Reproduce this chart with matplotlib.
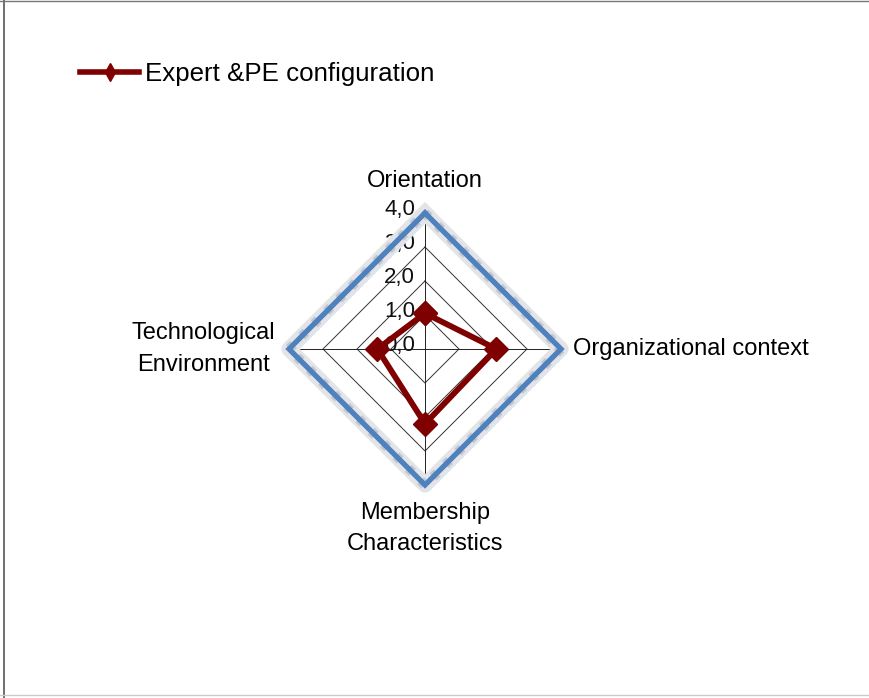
import numpy as np
import matplotlib
matplotlib.use("Agg")
import matplotlib.pyplot as plt
from matplotlib.lines import Line2D
from matplotlib.transforms import offset_copy

plt.rcParams["font.family"] = ["Liberation Sans", "DejaVu Sans"]

categories = ["Orientation", "Organizational context",
              "Membership\nCharacteristics", "Technological\nEnvironment"]
expert_pe = [1.05, 2.1, 2.2, 1.4]
outer = [4.0, 4.0, 4.0, 4.0]
tick_values = [0, 1, 2, 3, 4]
tick_labels = ["0,0", "1,0", "2,0", "3,0", "4,0"]
series_name = "Expert &PE configuration"

red = "#7F0000"
blue = "#4F81BD"

angles = np.linspace(0, 2 * np.pi, len(categories), endpoint=False)
closed = np.append(angles, angles[0])

fig = plt.figure(figsize=(8.69, 6.98), dpi=100)
ax = fig.add_axes([289 / 869, 213 / 698, 272 / 869, 272 / 698], projection="polar")
ax.set_theta_offset(np.pi / 2)
ax.set_theta_direction(-1)
ax.set_ylim(0, 4)
ax.grid(False)
ax.spines["polar"].set_visible(False)
ax.set_xticks([])
ax.set_yticks([])
ax.patch.set_alpha(0)

# polygon grid
for r in tick_values[1:4]:
    ax.plot(closed, [r] * len(closed), color="#333333", lw=0.7, zorder=1)
for a in angles:
    ax.plot([a, a], [0, 4], color="#222222", lw=0.7, zorder=1)

# tick labels left of the vertical axis
tick_tr = offset_copy(ax.transData, fig=fig, x=-10, y=4, units="dots")
for v, lab in zip(tick_values, tick_labels):
    ax.text(0, v, lab, transform=tick_tr, ha="right", va="center",
            fontsize=16, color="#111111", zorder=2)

# outer series with soft shadow
outer_c = outer + outer[:1]
ax.plot(closed, outer_c, color="#e2e4e8", lw=11, zorder=3, clip_on=False,
        solid_joinstyle="round")
ax.plot(closed, outer_c, color="#c2c8d0", lw=7, zorder=3, clip_on=False,
        linestyle=(0, (0.6, 1.2)))
ax.plot(closed, outer_c, color=blue, lw=3.8, zorder=4, clip_on=False,
        solid_joinstyle="miter")

# main series
vals = expert_pe + expert_pe[:1]
ax.plot(closed, vals, color=red, lw=4.2, marker="D", ms=12,
        markeredgecolor=red, zorder=5, clip_on=False)

# category labels
ax.text(angles[0], 4.94, categories[0], ha="center", va="center", fontsize=17)
ax.text(angles[1], 4.35, categories[1], ha="left", va="center", fontsize=17)
ax.text(angles[2], 4.5, categories[2], ha="center", va="top", fontsize=17,
        multialignment="center", linespacing=1.55)
ax.text(angles[3], 4.41, categories[3], ha="right", va="center", fontsize=17,
        multialignment="center", linespacing=1.55)

handle = Line2D([], [], color=red, lw=4, marker="d", ms=8.7,
                markeredgecolor=red)
fig.legend([handle], [series_name], loc="center left",
           bbox_to_anchor=(80 / 869, 1 - 74 / 698), frameon=False,
           borderpad=0, borderaxespad=0, handlelength=2.3,
           handletextpad=0.2, fontsize=18.6)

# outer frame
fig.add_artist(Line2D([4 / 869, 4 / 869], [0, 1], color="#555555", lw=1.2))
fig.add_artist(Line2D([0, 1], [1 - 1 / 698, 1 - 1 / 698], color="#777777", lw=1))
fig.add_artist(Line2D([0, 1], [3 / 698, 3 / 698], color="#cccccc", lw=1))

fig.savefig("out.png", dpi=100)
